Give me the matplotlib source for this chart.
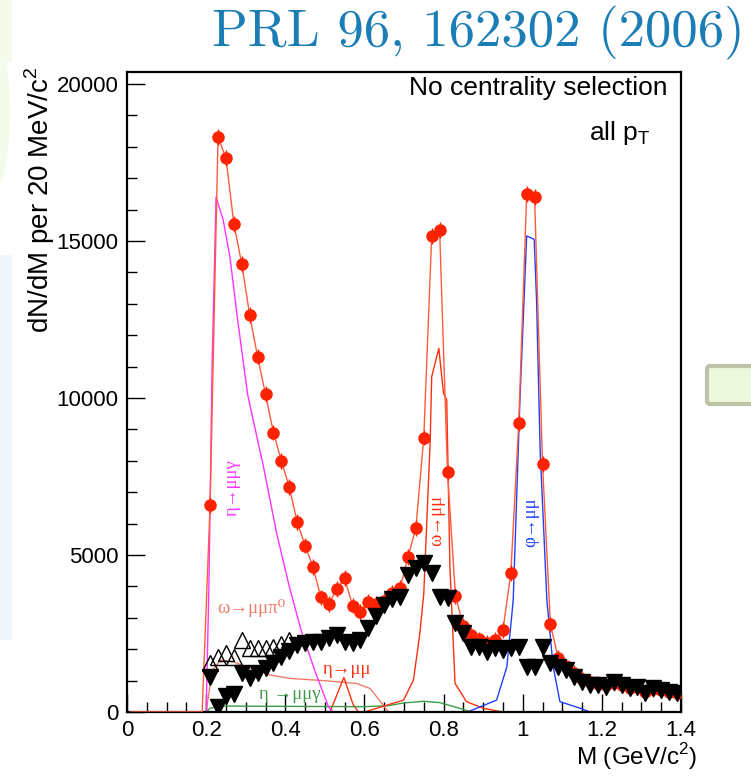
import numpy as np
import matplotlib
matplotlib.use("Agg")
import matplotlib.pyplot as plt
from matplotlib.patches import Rectangle, Ellipse, FancyBboxPatch
from matplotlib.ticker import MultipleLocator, FormatStrFormatter

# ---------------------------------------------------------------------------
# Data (20 MeV bins)
# ---------------------------------------------------------------------------
# measured spectrum (red circles); zero bins below threshold draw as line only
data_m = [0.01, 0.19, 0.21, 0.23, 0.25, 0.27, 0.29, 0.31, 0.33, 0.35, 0.37,
          0.39, 0.41, 0.43, 0.45, 0.47, 0.49, 0.51, 0.53, 0.55, 0.57, 0.59,
          0.61, 0.63, 0.65, 0.67, 0.69, 0.71, 0.73, 0.75, 0.77, 0.79, 0.81,
          0.83, 0.85, 0.87, 0.89, 0.91, 0.93, 0.95, 0.97, 0.99, 1.01, 1.03,
          1.05, 1.07, 1.09, 1.11, 1.13, 1.15, 1.17, 1.19, 1.21, 1.23, 1.25,
          1.27, 1.29, 1.31, 1.33, 1.35, 1.37, 1.39]
data_n = [0, 0, 6600, 18300, 17650, 15550, 14270, 12640, 11320, 10120, 8900,
          8000, 7170, 6040, 5300, 4620, 3650, 3440, 3920, 4260, 3390, 3180,
          3510, 3440, 3540, 3780, 3940, 4930, 5860, 8740, 15160, 15350, 7630,
          3700, 2740, 2450, 2310, 2200, 2290, 2610, 4420, 9210, 16490, 16410,
          7900, 2790, 1710, 1450, 1250, 1050, 950, 900, 860, 930, 850,
          760, 800, 640, 740, 700, 650, 600]

# excess (filled down-triangles)
exc_m = [0.21, 0.23, 0.25, 0.27, 0.29, 0.31, 0.33, 0.35, 0.37, 0.39, 0.41,
         0.43, 0.45, 0.47, 0.49, 0.51, 0.53, 0.55, 0.57, 0.59, 0.61, 0.63,
         0.65, 0.67, 0.69, 0.71, 0.73, 0.75, 0.77, 0.79, 0.81, 0.83, 0.85,
         0.87, 0.89, 0.91, 0.93, 0.95, 0.97, 0.99, 1.01, 1.03, 1.05, 1.07,
         1.09, 1.11, 1.13, 1.15, 1.17, 1.19, 1.21, 1.23, 1.25, 1.27, 1.29,
         1.31, 1.33, 1.35, 1.37, 1.39]
exc_n = [1120, 170, 500, 560, 1230, 1070, 1230, 1400, 1550, 1750, 1950,
         2130, 2190, 2240, 2240, 2350, 2450, 2240, 2190, 2290, 2670, 3050,
         3400, 3600, 3670, 4360, 4580, 4740, 4420, 3670, 3620, 2820, 2500,
         2080, 2080, 1920, 2030, 1970, 2030, 2080, 1440, 1440, 2080, 1550,
         1440, 1340, 1120, 970, 860, 860, 810, 970, 860, 750, 810,
         600, 750, 700, 650, 600]

# excess, alternative eta subtraction (open up-triangles)
alt_m = [0.21, 0.23, 0.25, 0.27, 0.29, 0.31, 0.33, 0.35, 0.37, 0.39, 0.41]
alt_n = [1550, 1760, 1870, 1760, 2300, 2030, 2030, 2030, 2080, 2170, 2300]

# cocktail components
eta_dal_m = [0.20, 0.207, 0.215, 0.225, 0.243, 0.26, 0.28, 0.305, 0.345,
             0.378, 0.41, 0.44, 0.475, 0.509, 0.52, 1.4]
eta_dal_n = [0, 4000, 11000, 16400, 15670, 14500, 12450, 10100, 7800,
             5700, 4000, 2600, 1300, 170, 0, 0]

omega_dal_m = [0.20, 0.215, 0.235, 0.269, 0.311, 0.361, 0.412, 0.496, 0.58,
               0.614, 0.644, 0.66, 1.4]
omega_dal_n = [0, 1300, 1650, 1600, 1390, 1180, 1070, 1000, 910, 750, 280, 0, 0]

eta_mm_m = [0.20, 0.513, 0.548, 0.572, 0.585, 1.4]
eta_mm_n = [0, 0, 1100, 220, 0, 0]

etap_m = [0.20, 0.21, 0.235, 0.40, 0.60, 0.66, 0.70, 0.75, 0.79, 0.84, 0.87, 1.4]
etap_n = [0, 120, 190, 180, 170, 200, 290, 340, 300, 120, 0, 0]

omega_m = [0.20, 0.60, 0.699, 0.724, 0.740, 0.750, 0.766, 0.770, 0.788,
           0.800, 0.808, 0.816, 0.829, 0.858, 0.90, 0.95, 1.4]
omega_n = [0, 0, 380, 1020, 2500, 3780, 8560, 10680, 11580,
           10140, 9940, 4630, 910, 330, 120, 0, 0]

phi_m = [0.20, 0.86, 0.884, 0.934, 0.96, 0.976, 0.993, 1.010, 1.029, 1.035,
         1.044, 1.061, 1.077, 1.094, 1.145, 1.17, 1.4]
phi_n = [0, 0, 120, 380, 1440, 3570, 9940, 15160, 15050, 13120,
         8350, 3570, 1440, 330, 120, 0, 0]

# ---------------------------------------------------------------------------
# Figure
# ---------------------------------------------------------------------------
W, H = 751, 781
fig = plt.figure(figsize=(W / 100, H / 100), dpi=100, facecolor="white")

# faint slide decorations on the left / right edge
fig.patches.append(Rectangle((0, 1 - 62 / H), 12 / W, 62 / H, transform=fig.transFigure,
                             facecolor="#f5fbea", edgecolor="none", zorder=0))
fig.patches.append(Ellipse((-4 / W, 1 - 112 / H), 28 / W, 150 / H, transform=fig.transFigure,
                           facecolor="#f5fbea", edgecolor="none", zorder=0))
fig.patches.append(Rectangle((0, 1 - 640 / H), 12 / W, 385 / H, transform=fig.transFigure,
                             facecolor="#eff7fd", edgecolor="none", zorder=0))
fig.patches.append(FancyBboxPatch((707 / W, 1 - 404 / H), 60 / W, 38 / H,
                                  boxstyle="round,pad=0,rounding_size=0.004",
                                  transform=fig.transFigure, facecolor="#eef8dc",
                                  edgecolor="#bcc3a8", linewidth=3, zorder=0))

ax = fig.add_axes([127 / W, 1 - 712 / H, (681 - 127) / W, (712 - 72) / H])
ax.set_xlim(0, 1.4)
ax.set_ylim(0, 20380)

SANS = ["Liberation Sans", "DejaVu Sans"]
SERIF = ["Liberation Serif", "DejaVu Serif"]

# cocktail lines
ax.plot(omega_dal_m, omega_dal_n, color="#f07a6a", lw=1.0, zorder=2)
ax.plot(eta_mm_m, eta_mm_n, color="#ff3010", lw=1.0, zorder=2)
ax.plot(etap_m, etap_n, color="#3c9a4a", lw=1.0, zorder=2)
ax.plot(eta_dal_m, eta_dal_n, color="#ff33ff", lw=1.0, zorder=2)
ax.plot(omega_m, omega_n, color="#ff3010", lw=1.0, zorder=2)
ax.plot(phi_m, phi_n, color="#2040ff", lw=1.0, zorder=2)

# measured spectrum
dm = np.array(data_m)
dn = np.array(data_n, dtype=float)
ax.plot(dm, dn, color="#ff5a3c", lw=1.0, zorder=3)
pts = dn > 0
ax.errorbar(dm[pts], dn[pts], yerr=250, fmt="o", ms=8, color="#ff2200",
            ecolor="#ff2200", elinewidth=1.0, capsize=0, zorder=4)

# excess
ax.plot(alt_m, alt_n, "^", ms=11, mfc="none", mec="black", mew=1.0, zorder=5)
ax.errorbar(exc_m, exc_n, yerr=150, fmt="v", ms=12, color="black",
            ecolor="black", elinewidth=1.0, capsize=0, zorder=6)

# component labels
LBL = 13.5
ax.text(0.227, 3150, "ω→μμπ⁰", color="#f07a6a", fontsize=LBL, family=SERIF)
ax.text(0.494, 1200, "η→μμ", color="#ff3010", fontsize=LBL, family=SERIF)
ax.text(0.333, 420, "η →μμγ", color="#3c9a4a", fontsize=LBL, family=SERIF)
ax.text(0.265, 7150, "η→μμγ", color="#ff33ff", fontsize=LBL, family=SERIF,
        rotation=90, ha="center", va="center")
ax.text(0.784, 6100, "ω→μμ", color="#ff3010", fontsize=LBL, family=SERIF,
        rotation=90, ha="center", va="center")
ax.text(1.021, 6050, "φ→μμ", color="#2040ff", fontsize=LBL, family=SERIF,
        rotation=90, ha="center", va="center")

ax.text(0.976, 0.975, "No centrality selection", transform=ax.transAxes,
        ha="right", va="center", fontsize=19, family=SANS)
ax.text(0.945, 0.905, "all p$_\\mathregular{T}$", transform=ax.transAxes,
        ha="right", va="center", fontsize=19, family=SANS)

# axes styling (ROOT-like)
for s in ax.spines.values():
    s.set_linewidth(1.6)
ax.xaxis.set_major_locator(MultipleLocator(0.2))
ax.xaxis.set_minor_locator(MultipleLocator(0.05))
ax.yaxis.set_major_locator(MultipleLocator(5000))
ax.yaxis.set_minor_locator(MultipleLocator(1000))
ax.xaxis.set_major_formatter(FormatStrFormatter("%g"))
ax.tick_params(which="both", direction="in", top=False, right=False, width=1.0)
ax.tick_params(which="major", length=13, labelsize=16, pad=6)
ax.tick_params(which="minor", length=7)
for lab in ax.get_xticklabels() + ax.get_yticklabels():
    lab.set_family(SANS)

fig.text(697 / W, 1 - 757 / H, "M (GeV/c$^\\mathregular{2}$)", ha="right", va="center",
         fontsize=17.5, family=SANS)
fig.text(40 / W, 1 - 66 / H, "dN/dM per 20 MeV/c$^\\mathregular{2}$", rotation=90,
         ha="center", va="top", fontsize=20, family=SANS)

fig.text(745 / W, 1 - 46 / H, "PRL 96, 162302 (2006)", ha="right", va="baseline",
         fontsize=38, family="cmr10", color="#1b7db5")

fig.savefig("out.png", dpi=100, facecolor="white")
